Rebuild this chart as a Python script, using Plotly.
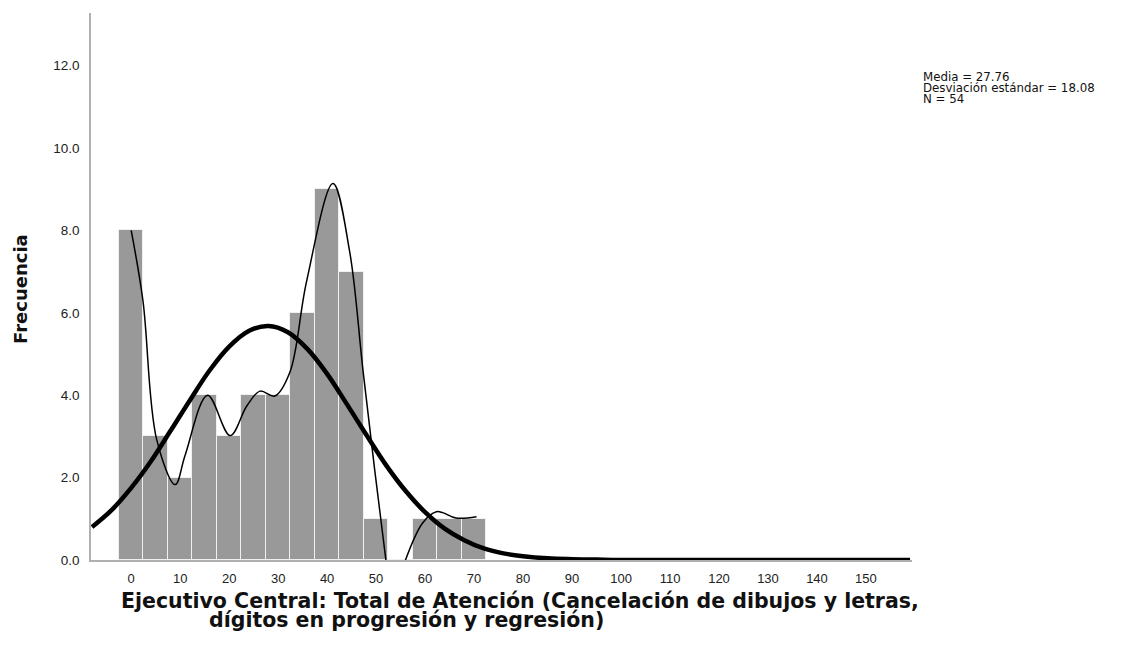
import plotly.graph_objects as go

# Histogram data (bin centers, counts)
bin_centers = [0, 5, 10, 15, 20, 25, 30, 35, 40, 45, 50, 55, 60, 65, 70]
counts = [8, 3, 2, 4, 3, 4, 4, 6, 9, 7, 1, 0, 1, 1, 1]

# Normal curve
normal_x = [-8, -4, 0, 4, 8, 12, 16, 20, 24, 28, 32, 36, 40, 44, 48, 52, 56, 60,
            64, 68, 72, 76, 80, 85, 90, 95, 100, 159]
normal_y = [0.80, 1.21, 1.75, 2.39, 3.13, 3.88, 4.60, 5.18, 5.56, 5.68, 5.53, 5.12,
            4.52, 3.79, 3.04, 2.31, 1.68, 1.16, 0.76, 0.48, 0.28, 0.16, 0.09, 0.04,
            0.02, 0.01, 0.0, 0.0]

# Smoothed (interpolation) line; None splits the two segments
smooth_x = [0, 2.4, 5.2, 9.0, 11.0, 15.6, 20.2, 23.6, 26.3, 29.3, 32.4, 35.8, 41.2,
            44.6, 47.3, 49.7, 52.0, None, 56.0, 59.5, 62.3, 63.6, 66.3, 70.5]
smooth_y = [8.0, 6.3, 2.93, 1.83, 2.54, 4.0, 3.02, 3.74, 4.10, 3.98, 4.56, 6.76, 9.14,
            7.49, 4.63, 2.20, 0.0, None, 0.0, 0.90, 1.17, 1.15, 1.02, 1.05]

x_ticks = list(range(0, 151, 10))
y_ticks = [0, 2, 4, 6, 8, 10, 12]

stats_lines = ["Media = 27.76", "Desviación estándar = 18.08", "N = 54"]
x_title_lines = ["Ejecutivo Central: Total de Atención (Cancelación de dibujos y letras,",
                 "dígitos en progresión y regresión)"]
y_title = "Frecuencia"

FONT = "Liberation Sans, Arial, sans-serif"
WIDE = "DejaVu Sans, sans-serif"

fig = go.Figure()
fig.add_trace(go.Bar(x=bin_centers, y=counts, width=5,
                     marker=dict(color="#999999", line=dict(color="#f0f0f0", width=1)),
                     showlegend=False, hoverinfo="skip"))
fig.add_trace(go.Scatter(x=smooth_x, y=smooth_y, mode="lines",
                         line=dict(color="#000000", width=1.5, shape="spline", smoothing=1.0),
                         connectgaps=False, showlegend=False, hoverinfo="skip"))
fig.add_trace(go.Scatter(x=normal_x, y=normal_y, mode="lines",
                         line=dict(color="#000000", width=4.5, shape="spline"),
                         showlegend=False, hoverinfo="skip"))

L, R, T, B = 91, 214, 13, 96
W, H = 1126, 656
pw, ph = W - L - R, H - T - B

def px(xp):
    return (xp - L) / pw

def py(yp):
    return (H - B - yp) / ph

fig.update_layout(
    width=W, height=H,
    margin=dict(l=L, r=R, t=T, b=B, autoexpand=False),
    plot_bgcolor="white", paper_bgcolor="white",
    bargap=0,
    font=dict(family=FONT, size=13, color="#222222"),
    xaxis=dict(range=[-8.2, 159.4], tickvals=x_ticks, ticktext=[str(v) for v in x_ticks],
               showgrid=False, zeroline=False, showline=True, linecolor="#b0b0b0",
               linewidth=1.5, ticks="", ticklabelstandoff=6,
               tickfont=dict(size=13, color="#222222")),
    yaxis=dict(range=[0, 13.28], tickvals=y_ticks, tickformat=".1f",
               showgrid=False, zeroline=False, showline=True, linecolor="#b0b0b0",
               linewidth=1.5, ticks="", ticklabelstandoff=7,
               tickfont=dict(size=13.5, color="#222222")),
)

annotations = []
for i, s in enumerate(stats_lines):
    annotations.append(dict(text=s, xref="paper", yref="paper", x=px(921), y=py(77 + 11 * i),
                            xanchor="left", yanchor="middle", showarrow=False,
                            font=dict(family=WIDE, size=11.8, color="#111111")))
annotations.append(dict(text="<b>" + x_title_lines[0] + "</b>", xref="paper", yref="paper",
                        x=px(119), y=py(601), xanchor="left", yanchor="middle", showarrow=False,
                        font=dict(family=WIDE, size=20.5, color="#111111")))
annotations.append(dict(text="<b>" + x_title_lines[1] + "</b>", xref="paper", yref="paper",
                        x=px(207), y=py(620), xanchor="left", yanchor="middle", showarrow=False,
                        font=dict(family=WIDE, size=20.5, color="#111111")))
annotations.append(dict(text="<b>" + y_title + "</b>", xref="paper", yref="paper",
                        x=px(20), y=py(289), xanchor="center", yanchor="middle", textangle=-90,
                        showarrow=False, font=dict(family=WIDE, size=18, color="#111111")))
fig.update_layout(annotations=annotations)

fig.write_html("out.html")
